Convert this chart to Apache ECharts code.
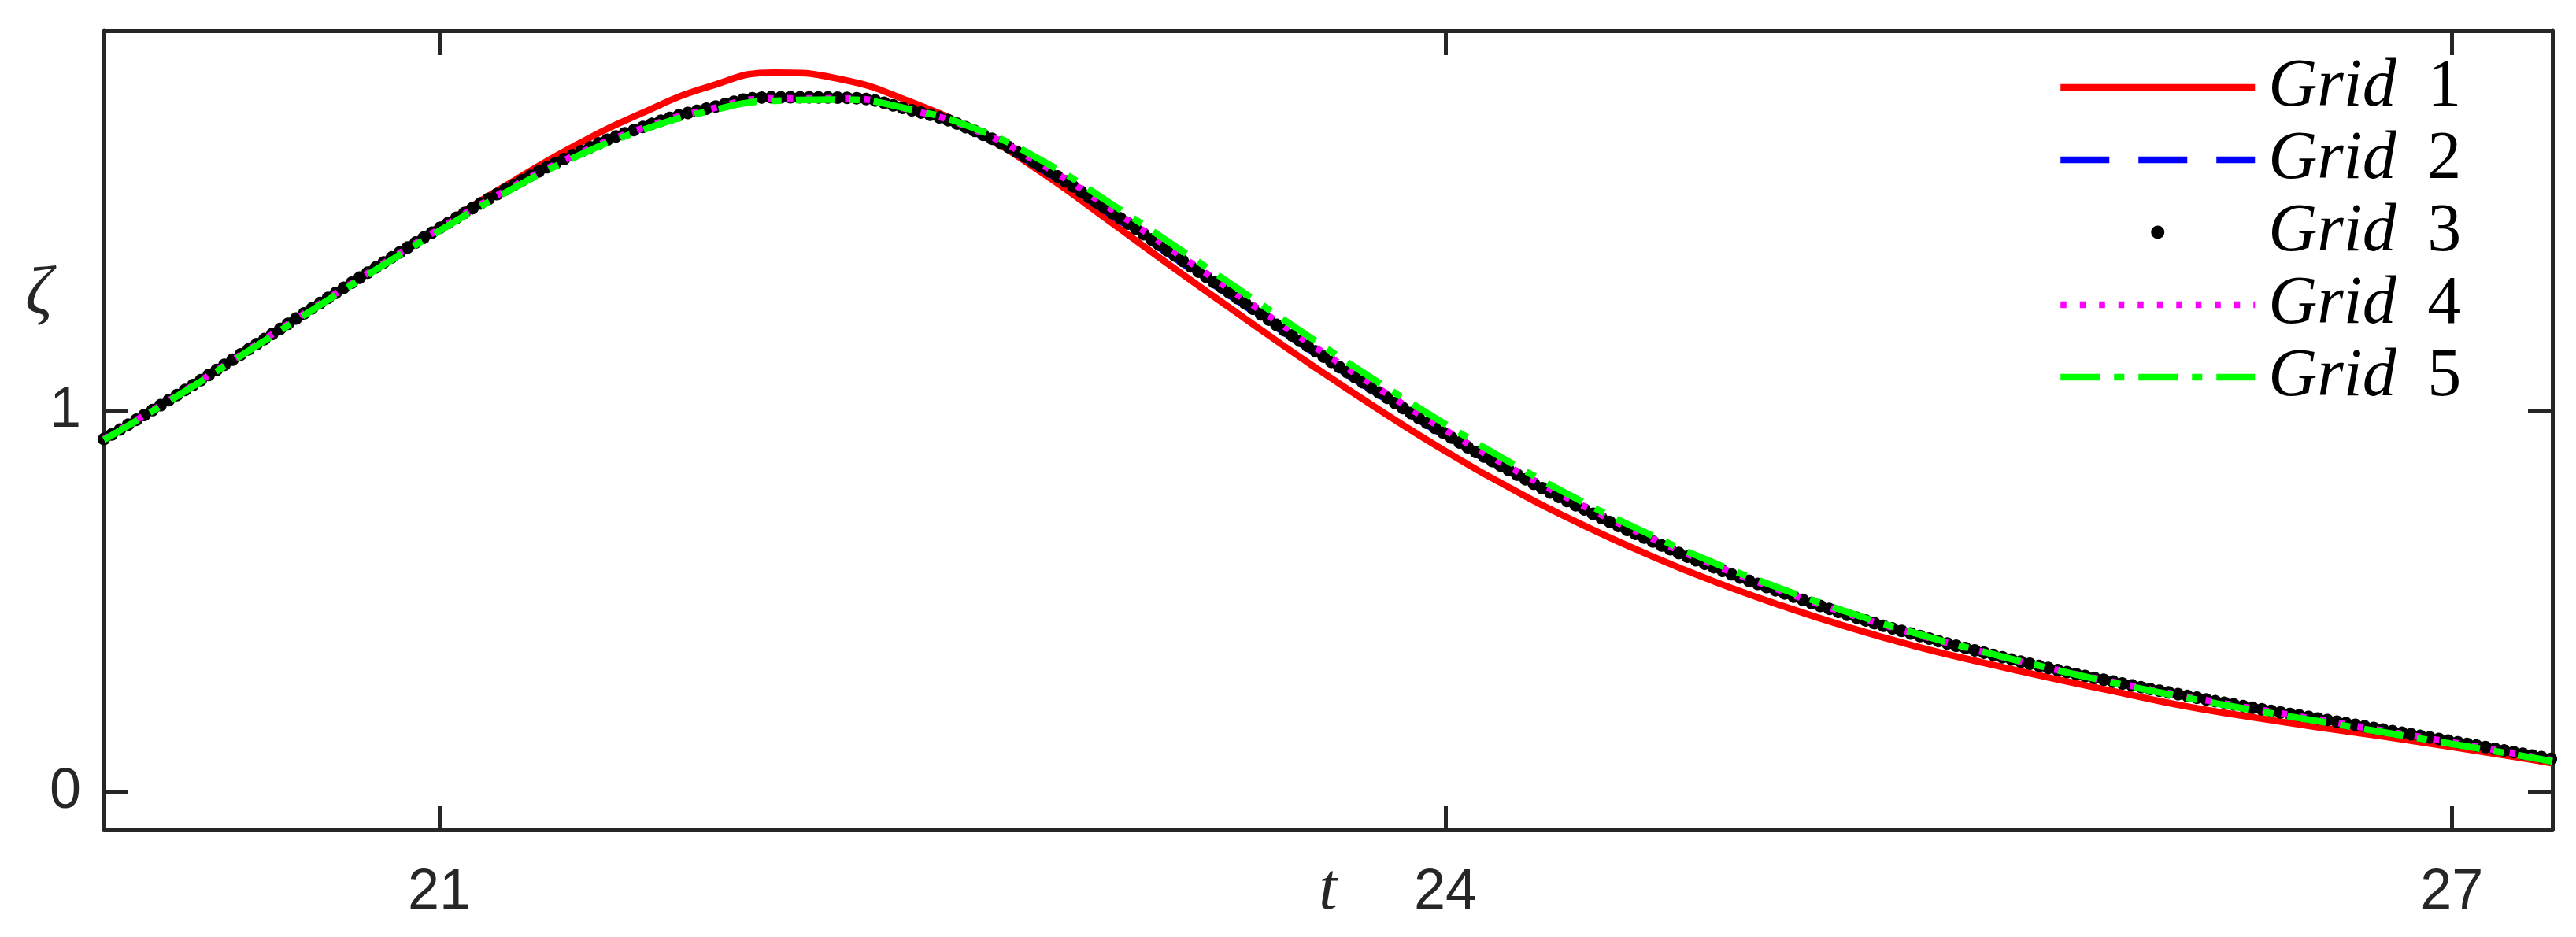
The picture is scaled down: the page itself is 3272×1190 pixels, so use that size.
<!DOCTYPE html>
<html>
<head>
<meta charset="utf-8">
<script src="https://cdn.jsdelivr.net/npm/echarts@6/dist/echarts.min.js"></script>
<style>
  html, body { margin: 0; padding: 0; background: #fff; }
  #chart { width: 3272px; height: 1190px; }
</style>
</head>
<body>
<div id="chart"></div>
<script>
// time samples (t) shared by all five grids
const tValues = [20.0, 20.2, 20.4, 20.6, 20.8, 21.0, 21.2, 21.4, 21.6, 21.8,
  22.0, 22.2, 22.4, 22.6, 22.8, 23.0, 23.2, 23.4, 23.6, 23.8,
  24.0, 24.2, 24.4, 24.6, 24.8, 25.0, 25.2, 25.4, 25.6, 25.8,
  26.0, 26.2, 26.4, 26.6, 26.8, 27.0, 27.2, 27.3];

// zeta
const grid1 = [0.927, 1.033, 1.145, 1.260, 1.374, 1.485, 1.594, 1.696, 1.782, 1.852,
  1.890, 1.872, 1.815, 1.735, 1.625, 1.498, 1.370, 1.245, 1.122, 1.005,
  0.895, 0.795, 0.705, 0.625, 0.553, 0.490, 0.433, 0.383, 0.340, 0.300,
  0.263, 0.226, 0.197, 0.170, 0.145, 0.118, 0.090, 0.075];
const grid2 = [0.927, 1.033, 1.145, 1.259, 1.372, 1.480, 1.583, 1.673, 1.744, 1.795,
  1.824, 1.823, 1.791, 1.731, 1.634, 1.518, 1.398, 1.278, 1.159, 1.044,
  0.935, 0.836, 0.745, 0.662, 0.588, 0.523, 0.464, 0.412, 0.366, 0.324,
  0.287, 0.253, 0.221, 0.192, 0.162, 0.132, 0.101, 0.085];
const grid3 = [0.927, 1.033, 1.145, 1.259, 1.372, 1.481, 1.584, 1.674, 1.745, 1.796,
  1.825, 1.824, 1.793, 1.735, 1.640, 1.525, 1.405, 1.285, 1.165, 1.050,
  0.940, 0.840, 0.748, 0.665, 0.590, 0.525, 0.465, 0.413, 0.367, 0.325,
  0.288, 0.254, 0.222, 0.193, 0.163, 0.133, 0.102, 0.086];
const grid4 = [0.927, 1.032, 1.144, 1.258, 1.370, 1.479, 1.581, 1.671, 1.742, 1.793,
  1.822, 1.822, 1.793, 1.738, 1.646, 1.533, 1.414, 1.294, 1.175, 1.060,
  0.950, 0.849, 0.756, 0.672, 0.596, 0.529, 0.468, 0.415, 0.368, 0.325,
  0.287, 0.252, 0.220, 0.190, 0.160, 0.130, 0.099, 0.083];
const grid5 = [0.925, 1.030, 1.141, 1.254, 1.366, 1.474, 1.576, 1.666, 1.737, 1.788,
  1.816, 1.819, 1.794, 1.742, 1.657, 1.547, 1.430, 1.311, 1.192, 1.076,
  0.966, 0.862, 0.766, 0.680, 0.602, 0.534, 0.472, 0.417, 0.369, 0.325,
  0.285, 0.249, 0.216, 0.186, 0.156, 0.126, 0.096, 0.080];

const seriesNames = ['Grid 1', 'Grid 2', 'Grid 3', 'Grid 4', 'Grid 5'];
const xTicks = [21, 24, 27];
const yTicks = [0, 1];

const AXIS_COLOR = '#262626';

const pair = (vals) => tValues.map((t, i) => [t, vals[i]]);

// line looks, same for plot and legend
const looks = [
  { color: '#ff0000', width: 8.5, type: 'solid', cap: 'butt' },
  { color: '#0000ff', width: 8.5, type: [62, 37], cap: 'butt' },
  { color: '#000000', width: 16, type: [0.01, 12], cap: 'round' },
  { color: '#ff00ff', width: 8.5, type: [7.5, 17], cap: 'butt' },
  { color: '#00ff00', width: 8.5, type: [50, 18, 13, 18], cap: 'butt' },
];
const values = [grid1, grid2, grid3, grid4, grid5];

const series = values.map((vals, i) => ({
  name: seriesNames[i],
  type: 'line',
  xAxisIndex: 0,
  yAxisIndex: 0,
  data: pair(vals),
  smooth: 0.5,
  showSymbol: false,
  symbol: 'none',
  clip: i !== 2,
  itemStyle: { color: looks[i].color },
  lineStyle: { ...looks[i] },
  emphasis: { disabled: true },
  z: 2 + i,
}));

const legendData = seriesNames.map((name, i) => {
  if (i === 2) {
    return { name, icon: 'circle', itemStyle: { color: '#000', opacity: 1 } };
  }
  return {
    name,
    itemStyle: { opacity: 0 },
    lineStyle: { color: looks[i].color, width: looks[i].width, type: looks[i].type, cap: 'butt' },
  };
});

const tickCommon = {
  inside: true,
  length: 31,
  lineStyle: { color: AXIS_COLOR, width: 5 },
};
const lineCommon = { show: true, onZero: false, lineStyle: { color: AXIS_COLOR, width: 5 } };

const option = {
  animation: false,
  backgroundColor: '#fff',
  grid: { left: 132, right: 30, top: 39, bottom: 136, containLabel: false, outerBoundsMode: 'none' },
  legend: {
    orient: 'vertical',
    left: 2608,
    top: 63,
    itemWidth: 247,
    itemHeight: 17,
    itemGap: 6,
    selectedMode: false,
    data: legendData,
    formatter: (name) => '{i|Grid} {n|' + name.split(' ')[1] + '}',
    textStyle: {
      color: '#000',
      fontFamily: 'Liberation Serif',
      fontSize: 86,
      lineHeight: 84,
      padding: [0, 0, 0, 12],
      rich: {
        i: { fontFamily: 'Liberation Serif', fontStyle: 'italic', fontSize: 86, color: '#000', lineHeight: 84 },
        n: { fontFamily: 'Liberation Serif', fontSize: 86, color: '#000', lineHeight: 84, padding: [0, 0, 0, 18] },
      },
    },
  },
  xAxis: [
    {
      type: 'value',
      min: 20,
      max: 27.3,
      position: 'bottom',
      name: 't',
      nameLocation: 'middle',
      nameGap: 36,
      nameMoveOverlap: false,
      nameTextStyle: { fontFamily: 'Liberation Serif', fontStyle: 'italic', fontSize: 84, color: AXIS_COLOR },
      axisLine: lineCommon,
      axisTick: { ...tickCommon, customValues: xTicks },
      axisLabel: {
        customValues: xTicks,
        margin: 44,
        fontFamily: 'Liberation Sans',
        fontSize: 72,
        color: AXIS_COLOR,
      },
      splitLine: { show: false },
    },
    {
      type: 'value',
      min: 20,
      max: 27.3,
      position: 'top',
      axisLine: lineCommon,
      axisTick: { ...tickCommon, customValues: xTicks },
      axisLabel: { show: false },
      splitLine: { show: false },
    },
  ],
  yAxis: [
    {
      type: 'value',
      min: -0.1,
      max: 2,
      position: 'left',
      axisLine: lineCommon,
      axisTick: { ...tickCommon, customValues: yTicks },
      axisLabel: {
        customValues: yTicks,
        margin: 29,
        fontFamily: 'Liberation Sans',
        fontSize: 72,
        color: AXIS_COLOR,
      },
      splitLine: { show: false },
    },
    {
      type: 'value',
      min: -0.1,
      max: 2,
      position: 'right',
      axisLine: lineCommon,
      axisTick: { ...tickCommon, customValues: yTicks },
      axisLabel: { show: false },
      splitLine: { show: false },
    },
  ],
  graphic: [
    {
      type: 'text',
      left: 32,
      top: 332,
      style: {
        text: 'ζ',
        font: 'italic 86px "Liberation Serif"',
        fill: AXIS_COLOR,
      },
    },
  ],
  series,
};

const chart = echarts.init(document.getElementById('chart'), null, { renderer: 'canvas' });
chart.setOption(option);
</script>
</body>
</html>
